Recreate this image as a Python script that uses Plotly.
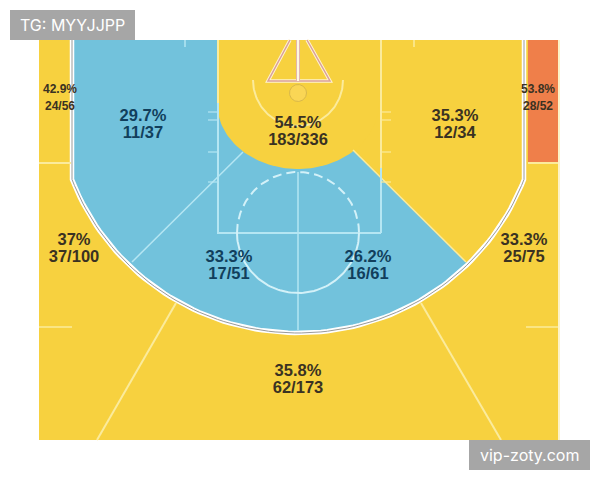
import numpy as np
import plotly.graph_objects as go

# ---- zone statistics (text) ----
zone_pct = ["42.9%", "29.7%", "54.5%", "35.3%", "53.8%", "37%", "33.3%", "26.2%", "33.3%", "35.8%"]
zone_made = ["24/56", "11/37", "183/336", "12/34", "28/52", "37/100", "17/51", "16/61", "25/75", "62/173"]
zone_x = [60, 143, 298, 455, 538, 74, 229, 368, 524, 298]
pct_y = [90, 117, 124, 117, 90, 241, 258, 258, 241, 372]
made_y = [107, 134, 141, 134, 107, 258, 275, 275, 258, 389]
zone_size = [12, 16.5, 16.5, 16.5, 12, 16.5, 16.5, 16.5, 16.5, 16.5]
zone_col = ["#3a3222", "#113f5c", "#3a3222", "#3a3222", "#3a3222", "#3a3222", "#113f5c", "#113f5c", "#3a3222", "#3a3222"]

YELLOW = "#f7d13f"
BLUE = "#72c2dc"
ORANGE = "#ef7f4a"
LINE_Y = "#fbeb9c"
LINE_B = "#b5e6f3"
PINK = "#d9a09c"

COURT = (39, 559, 40, 440)
CX = 298
ARC_CY, ARC_RX, ARC_RY = 94, 242, 239
SIDE = 226


def arc_pts(t0, t1, cx, cy, rx, ry, n=90):
    t = np.radians(np.linspace(t0, t1, n))
    return cx + rx * np.cos(t), cy + ry * np.sin(t)


fig = go.Figure()


def poly(x, y, color):
    fig.add_trace(go.Scatter(x=list(x), y=list(y), mode="lines", fill="toself", fillcolor=color,
                             line=dict(width=0, color=color), hoverinfo="skip", showlegend=False))


def line(x, y, color, width=1.5, dash=None):
    fig.add_trace(go.Scatter(x=list(x), y=list(y), mode="lines", hoverinfo="skip", showlegend=False,
                             line=dict(color=color, width=width, dash=dash)))


# court background
L, R, T, B = COURT
poly([L, R, R, L], [T, T, B, B], YELLOW)
line([R, R], [T, B], "#fdf3c8", 2)
# orange corner
poly([528, R - 1, R - 1, 528], [T, T, 163, 163], ORANGE)

# inside-arc blue
t_end = np.degrees(np.arccos(SIDE / ARC_RX))
ax, ay = arc_pts(t_end, 180 - t_end, CX, ARC_CY, ARC_RX, ARC_RY)
poly([CX - SIDE, *ax[::-1], CX + SIDE, CX + SIDE, CX - SIDE],
     [T, *ay[::-1], T, T, T], BLUE)

# right yellow wedge inside arc
wt = np.degrees(np.arctan2((262 - ARC_CY) / ARC_RY, (466 - CX) / ARC_RX))
wx, wy = arc_pts(t_end, wt, CX, ARC_CY, ARC_RX, ARC_RY, 40)
poly([298, CX + SIDE, *wx, 466, 353, 298], [T, T, *wy, 262, 150, 150], YELLOW)

# restricted yellow zone
rx, ry = arc_pts(0, 180, CX, 103, 81, 66)
poly([217, 381, *rx, 217], [T, T, *ry, T], YELLOW)

# 3-pt line: white, with grey core
for col, w in (("#ffffff", 4.5), ("#9a9a9a", 1)):
    ax2, ay2 = arc_pts(t_end, 180 - t_end, CX, ARC_CY, ARC_RX, ARC_RY)
    line([CX + SIDE, *ax2, CX - SIDE], [T, *ay2, T], col, w)

# zone separators
line([39, 71], [163, 163], LINE_Y, 2)
line([528, 558], [163, 163], LINE_Y, 2)
line([39, 72], [327, 327], LINE_Y, 1.5)
line([526, 558], [327, 327], LINE_Y, 1.5)
line([176, 97], [303, 440], LINE_Y, 2)
line([421, 501], [303, 440], LINE_Y, 2)
line([353, 466], [150, 262], LINE_Y, 1.5)
line([243, 132], [152, 262], LINE_B, 1.5)

# paint
line([218, 218], [T, 103], LINE_Y, 2)
line([218, 218, 381], [103, 233, 233], LINE_B, 2)
line([381, 381], [T, 168], LINE_Y, 2)
line([381, 381], [168, 233], LINE_B, 2)
line([CX, CX], [172, 330], LINE_B, 1.5)
line(*arc_pts(0, 180, CX, 233, 61, 60), "#d3f1f8", 2)
line(*arc_pts(180, 360, CX, 233, 61, 61), "#d3f1f8", 2, dash="9px,5px")

# lane ticks
for ty in (112, 120, 152):
    line([208, 218], [ty, ty], LINE_B, 1.2)
    line([381, 391], [ty, ty], LINE_Y, 1.2)
line([208, 218], [182, 182], LINE_B, 1.2)
line([381, 391], [182, 182], LINE_Y, 1.2)
line([185, 185], [T, 47], LINE_B, 1.5)
line([414, 414], [T, 47], LINE_Y, 1.5)

# restricted arc, backboard, hoop
line(*arc_pts(0, 180, CX, 80, 45, 46), LINE_Y, 2)
line([290, 268, 330, 307], [T, 81, 81, T], "#fff3cf", 3.5)
line([290, 268, 330, 307], [T, 81, 81, T], PINK, 1.5)
line([CX, CX], [T, 81], PINK, 4)
line([CX, CX], [T, 81], "#fff8e0", 2.5)
hx, hy = arc_pts(0, 360, CX, 93, 8.5, 8.5)
poly(hx, hy, "#fad655")
line(hx, hy, "#d9b84a", 1)

for ys, labels in ((pct_y, zone_pct), (made_y, zone_made)):
    fig.add_trace(go.Scatter(
        x=zone_x, y=ys, mode="text", hoverinfo="skip", showlegend=False,
        text=[f"<b>{s}</b>" for s in labels], textposition="middle center",
        textfont=dict(family="Liberation Sans", size=zone_size, color=zone_col)))

shapes = [
    dict(type="rect", xref="x", yref="y", x0=10, x1=135, y0=10, y1=40, fillcolor="#a6a6a6", line_width=0),
    dict(type="rect", xref="x", yref="y", x0=469, x1=590, y0=440, y1=470, fillcolor="#a6a6a6", line_width=0),
]
annots = [
    dict(x=72.5, y=25, text="TG: MYYJJPP", showarrow=False, font=dict(family="Inter", size=16, color="#ffffff")),
    dict(x=529.5, y=455, text="vip-zoty.com", showarrow=False, font=dict(family="Inter", size=16, color="#ffffff")),
]

fig.update_layout(
    width=600, height=480, margin=dict(l=0, r=0, t=0, b=0),
    paper_bgcolor="#ffffff", plot_bgcolor="#ffffff", shapes=shapes, annotations=annots,
    xaxis=dict(range=[0, 600], visible=False, fixedrange=True),
    yaxis=dict(range=[480, 0], visible=False, fixedrange=True),
)
fig.write_html("out.html", config={"displayModeBar": False},
               post_script="document.body.style.margin='0';document.body.style.overflow='hidden';")
